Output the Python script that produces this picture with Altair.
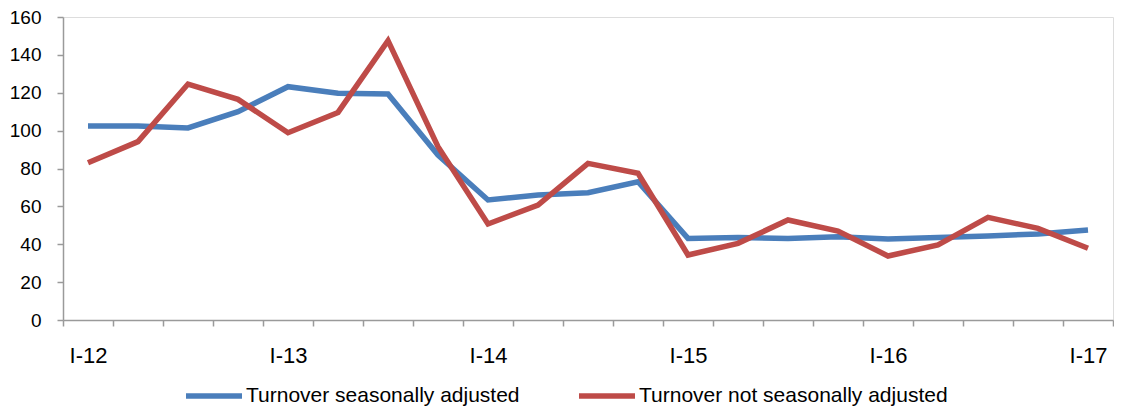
import altair as alt
import pandas as pd

quarters = ["I", "II", "III", "IV"]
years = ["12", "13", "14", "15", "16", "17"]
periods = [f"{q}-{y}" for y in years for q in quarters][:21]

seasonally_adjusted = [102.4, 102.4, 101.4, 110.0, 123.2, 119.7, 119.3, 87.1, 63.4, 66.0,
                       67.2, 73.0, 43.1, 43.5, 43.1, 44.0, 42.8, 43.5, 44.4, 45.4, 47.5]
not_adjusted = [83.0, 94.2, 124.6, 116.5, 98.9, 109.6, 147.5, 91.5, 50.7, 60.7,
                82.7, 77.5, 34.3, 40.5, 52.8, 47.0, 33.8, 39.6, 54.2, 48.4, 37.9]

series_names = ["Turnover seasonally adjusted", "Turnover not seasonally adjusted"]
series_colors = ["#4A7EBB", "#BE4B48"]

rows = []
for i, p in enumerate(periods):
    rows.append({"period": p, "idx": i, "series": series_names[0], "value": seasonally_adjusted[i]})
    rows.append({"period": p, "idx": i, "series": series_names[1], "value": not_adjusted[i]})
df = pd.DataFrame(rows)

FONT = "Liberation Sans"
AXIS_COLOR = "#9A9A9A"

chart = alt.Chart(df).mark_line(strokeWidth=5.5, strokeJoin="miter").encode(
    x=alt.X(
        "period:O",
        sort=periods,
        bandPosition=0.5,
        scale=alt.Scale(type="band", paddingInner=0, paddingOuter=0, round=False),
        axis=alt.Axis(
            title=None,
            tickBand="extent",
            labelExpr="indexof(datum.label, 'I-') == 0 ? datum.label : ''",
            labelAngle=0,
            labelFontSize=22,
            labelFont=FONT,
            labelColor="#000000",
            labelPadding=19,
            tickSize=6,
            tickColor=AXIS_COLOR,
            domainColor=AXIS_COLOR,
            tickWidth=1.5,
            domainWidth=1.5,
            grid=False,
        ),
    ),
    y=alt.Y(
        "value:Q",
        scale=alt.Scale(domain=[0, 160], nice=False),
        axis=alt.Axis(
            title=None,
            values=[0, 20, 40, 60, 80, 100, 120, 140, 160],
            labelFontSize=19,
            labelFont=FONT,
            labelColor="#000000",
            labelPadding=16,
            tickSize=6,
            tickColor=AXIS_COLOR,
            domainColor=AXIS_COLOR,
            tickWidth=1.5,
            domainWidth=1.5,
            grid=False,
        ),
    ),
    color=alt.Color(
        "series:N",
        sort=series_names,
        scale=alt.Scale(domain=series_names, range=series_colors),
        legend=alt.Legend(
            title=None,
            orient="none",
            direction="horizontal",
            legendX=120,
            legendY=348,
            padding=0,
            symbolType="stroke",
            symbolSize=3136,
            symbolStrokeWidth=5.5,
            labelFontSize=21,
            labelFont=FONT,
            labelColor="#000000",
            labelOffset=1,
            labelLimit=500,
            columnPadding=48,
        ),
    ),
).properties(
    width=1050,
    height=303,
    autosize=alt.AutoSizeParams(type="none"),
    padding={"left": 55, "top": 9, "right": 1, "bottom": 88},
).configure_view(stroke=None).configure(background="white")

chart.save("out.html", embed_options={"renderer": "svg", "actions": False})
